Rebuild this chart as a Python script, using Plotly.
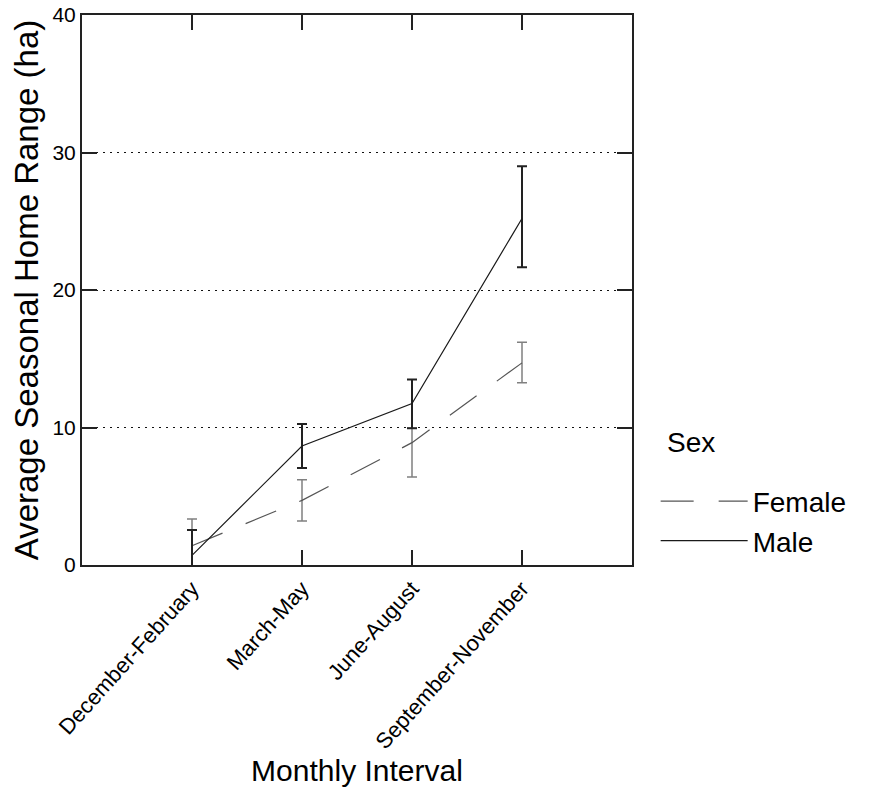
import plotly.graph_objects as go

intervals = ["December-February", "March-May", "June-August", "September-November"]
female_mean = [1.4, 4.7, 8.9, 14.7]
female_err_plus = [1.95, 1.5, 1.05, 1.5]
female_err_minus = [1.95, 1.5, 2.5, 1.45]
male_mean = [0.7, 8.65, 11.75, 25.2]
male_err_plus = [1.85, 1.6, 1.75, 3.8]
male_err_minus = [1.85, 1.6, 1.8, 3.55]
y_ticks = [0, 10, 20, 30, 40]

FONT = "Liberation Sans, Arial, sans-serif"

fig = go.Figure()
fig.add_trace(go.Scatter(
    x=intervals, y=female_mean, name="Female", mode="lines",
    line=dict(color="#555555", width=1.2, dash="33px,25px"),
    error_y=dict(type="data", symmetric=False, array=female_err_plus,
                 arrayminus=female_err_minus, color="#808080", thickness=1.5, width=5),
))
fig.add_trace(go.Scatter(
    x=intervals, y=male_mean, name="Male", mode="lines",
    line=dict(color="#1a1a1a", width=1.2),
    error_y=dict(type="data", symmetric=False, array=male_err_plus,
                 arrayminus=male_err_minus, color="#222222", thickness=2, width=5),
))

fig.add_annotation(
    text="Sex", xref="paper", yref="paper", x=1.06, y=0.2236,
    xanchor="left", yanchor="middle", showarrow=False,
    font=dict(size=28, family=FONT, color="black"),
)

fig.update_layout(
    width=883, height=794,
    margin=dict(l=82, r=251, t=15, b=229),
    paper_bgcolor="white", plot_bgcolor="white",
    font=dict(family=FONT, color="black"),
    showlegend=True,
    legend=dict(
        font=dict(size=28),
        x=1.043, xanchor="left", y=0.08, yanchor="middle",
        itemwidth=87, tracegroupgap=0,
        bgcolor="rgba(0,0,0,0)",
    ),
    xaxis=dict(
        type="category", categoryorder="array", categoryarray=intervals,
        range=[-1, 4], automargin=False,
        showline=True, linecolor="#222", linewidth=2, mirror="ticks",
        ticks="inside", ticklen=15, tickcolor="#222", tickwidth=1.5,
        tickangle=-48, tickfont=dict(size=22, family=FONT),
        showgrid=False, zeroline=False,
        title=dict(text="Monthly Interval", font=dict(size=30), standoff=7),
    ),
    yaxis=dict(
        range=[0, 40], tickvals=y_ticks, automargin=False,
        showline=True, linecolor="#222", linewidth=2, mirror="ticks",
        ticks="inside", ticklen=15, tickcolor="#222", tickwidth=1.5,
        tickfont=dict(size=21, family=FONT),
        showgrid=True, gridcolor="#111", gridwidth=1, griddash="2px,5px",
        zeroline=False,
        title=dict(text="Average Seasonal Home Range (ha)", font=dict(size=33), standoff=4),
    ),
)

fig.write_html("out.html")
